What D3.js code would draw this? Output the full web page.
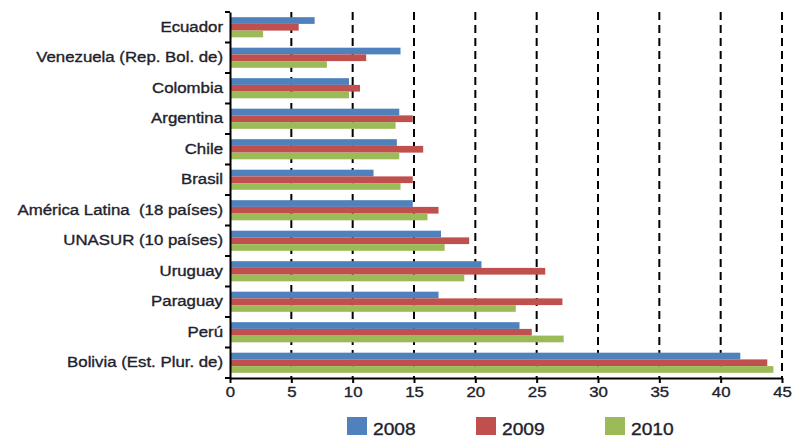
<!DOCTYPE html>
<html lang="es">
<head>
<meta charset="utf-8">
<title>Barras horizontales 2008-2010</title>
<script src="https://d3js.org/d3.v7.min.js"></script>
<style>
  body { margin: 0; background: #fff; }
  text { font-family: "Liberation Sans", Arial, sans-serif; fill: #1f1f2e; white-space: pre; }
</style>
</head>
<body>
<script>
const W = 793, H = 438;
const mLeft = 230, mRight = 782, mTop = 12, mBottom = 378;

const categories = ["Ecuador", "Venezuela (Rep. Bol. de)", "Colombia", "Argentina", "Chile", "Brasil",
  "América Latina  (18 países)", "UNASUR (10 países)", "Uruguay", "Paraguay", "Perú", "Bolivia (Est. Plur. de)"];
const years = ["2008", "2009", "2010"];
const v2008 = [6.9, 13.9, 9.7, 13.8, 13.6, 11.7, 14.9, 17.2, 20.5, 17.0, 23.6, 41.6];
const v2009 = [5.6, 11.1, 10.6, 14.9, 15.75, 14.9, 17.0, 19.5, 25.7, 27.1, 24.6, 43.8];
const v2010 = [2.7, 7.9, 9.7, 13.5, 13.8, 13.9, 16.1, 17.5, 19.1, 23.3, 27.2, 44.3];
const xTicks = [0, 5, 10, 15, 20, 25, 30, 35, 40, 45];
const colors = ["#4f81bd", "#c0504d", "#9bbb59"];

const series = [v2008, v2009, v2010];
const rows = categories.map((c, i) => ({ cat: c, vals: years.map((y, j) => ({ year: y, v: series[j][i] })) }));

const svg = d3.select("body").append("svg").attr("width", W).attr("height", H);

const x = d3.scaleLinear().domain([0, 45]).range([mLeft, mRight]);
const y0 = d3.scaleBand().domain(categories).range([mTop, mBottom]).paddingInner(0.34).paddingOuter(0.17);
const y1 = d3.scaleBand().domain(years).range([0, y0.bandwidth()]);
const color = d3.scaleOrdinal().domain(years).range(colors);

// dashed gridlines
svg.append("g").selectAll("line")
  .data(xTicks.slice(1))
  .join("line")
  .attr("x1", d => x(d)).attr("x2", d => x(d))
  .attr("y1", mTop).attr("y2", mBottom)
  .attr("stroke", "#000").attr("stroke-width", 2).attr("stroke-dasharray", "8,5");

// bars
svg.append("g").selectAll("g")
  .data(rows)
  .join("g")
  .attr("transform", d => `translate(0,${y0(d.cat)})`)
  .selectAll("rect")
  .data(d => d.vals)
  .join("rect")
  .attr("x", x(0))
  .attr("y", d => y1(d.year))
  .attr("width", d => x(d.v) - x(0))
  .attr("height", y1.bandwidth())
  .attr("fill", d => color(d.year));

// x axis
const xAxis = svg.append("g")
  .attr("transform", `translate(0,${mBottom})`)
  .call(d3.axisBottom(x).tickValues(xTicks).tickSize(5).tickSizeOuter(0).tickPadding(4));
xAxis.selectAll("path, line").attr("stroke", "#000").attr("stroke-width", 2);
xAxis.selectAll("text").attr("font-size", 14).style("font-family", "Liberation Sans, Arial, sans-serif").attr("fill", "#1f1f2e");

// y axis
const yAxis = svg.append("g")
  .attr("transform", `translate(${mLeft},0)`)
  .call(d3.axisLeft(y0).tickSize(0).tickSizeOuter(0).tickPadding(7));
yAxis.selectAll("path").attr("stroke", "#000").attr("stroke-width", 2);
yAxis.selectAll("text").attr("font-size", 14).style("font-family", "Liberation Sans, Arial, sans-serif").attr("fill", "#1f1f2e");

// boundary ticks on y axis
const step = y0.step();
svg.append("g").selectAll("line")
  .data(d3.range(categories.length + 1))
  .join("line")
  .attr("x1", mLeft - 5).attr("x2", mLeft)
  .attr("y1", i => mTop + i * step).attr("y2", i => mTop + i * step)
  .attr("stroke", "#000").attr("stroke-width", 2);

// legend
const legend = svg.append("g").selectAll("g")
  .data(years)
  .join("g")
  .attr("transform", (d, i) => `translate(${347 + i * 129},417)`);
legend.append("rect").attr("width", 20).attr("height", 18).attr("fill", d => color(d));
legend.append("text").attr("x", 26).attr("y", 18).attr("font-size", 16).text(d => d);

// the reference looks horizontally stretched and a bit heavy
svg.selectAll("text").each(function () {
  const t = d3.select(this);
  const w = this.getComputedTextLength();
  t.attr("textLength", w * 1.2).attr("lengthAdjust", "spacingAndGlyphs")
   .attr("stroke", "#1f1f2e").attr("stroke-width", 0.35);
});
</script>
</body>
</html>
